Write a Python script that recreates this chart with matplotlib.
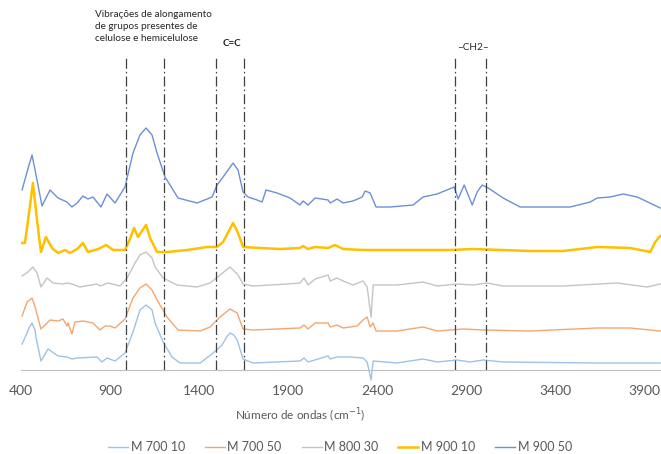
import numpy as np
import matplotlib
matplotlib.use("Agg")
import matplotlib.pyplot as plt

plt.rcParams["font.family"] = ["Lato", "DejaVu Sans"]

#################################
### 1. Dati ###
#################################

# numero d'onda (cm-1) e intensita' (u.a., con offset) per ogni campione
wn_700_10 = [406, 434, 445, 462, 479, 484, 512, 552, 608, 658, 686, 715, 827, 855, 883, 928, 984, 1029,
             1068, 1102, 1136, 1153, 1198, 1248, 1293, 1406, 1479, 1529, 1555, 1574, 1595, 1614, 1647,
             1703, 1967, 1990, 2012, 2125, 2136, 2175, 2248, 2321, 2344, 2366, 2378, 2512, 2658, 2737,
             2849, 2922, 2996, 3108, 3636, 3990]
y_700_10 = [26, 37, 42, 47, 40, 33, 9, 21, 14, 13, 11, 12, 13, 8, 12, 9, 17, 38,
            60, 65, 60, 47, 28, 13, 7, 7, 17, 25, 33, 37, 35, 30, 11,
            7, 9, 12, 8, 14, 11, 13, 13, 12, 8, -10, 9, 7, 11, 8,
            10, 8, 10, 8, 7, 7]

wn_700_50 = [406, 434, 462, 479, 512, 535, 563, 608, 636, 658, 664, 686, 703, 748, 804, 844, 872, 900,
             928, 984, 1029, 1068, 1102, 1136, 1164, 1220, 1282, 1406, 1462, 1518, 1574, 1614, 1647,
             1703, 1967, 1990, 2012, 2052, 2125, 2136, 2175, 2209, 2288, 2321, 2344, 2361, 2378, 2394,
             2512, 2658, 2737, 2883, 2996, 3260, 3636, 3821, 3990]
y_700_50 = [54, 68, 72, 63, 41, 45, 50, 49, 51, 44, 47, 36, 48, 49, 47, 40, 44, 44,
            42, 51, 72, 82, 86, 80, 70, 53, 40, 39, 43, 53, 61, 57, 41,
            40, 42, 45, 41, 47, 47, 43, 45, 42, 44, 50, 53, 43, 47, 39,
            39, 43, 39, 41, 40, 39, 42, 42, 39]

wn_800_30 = [406, 439, 467, 490, 512, 546, 580, 636, 658, 686, 731, 827, 844, 889, 956, 996, 1040,
             1068, 1102, 1136, 1153, 1198, 1276, 1389, 1462, 1518, 1574, 1619, 1647, 1703, 1894, 1967,
             1990, 2012, 2052, 2125, 2136, 2175, 2209, 2265, 2321, 2344, 2366, 2378, 2512, 2658, 2737,
             2849, 2939, 3018, 3108, 3445, 3748, 3917, 3990]
y_800_30 = [94, 98, 103, 97, 83, 92, 87, 86, 87, 86, 83, 86, 84, 87, 84, 92, 107,
            115, 118, 112, 103, 92, 85, 83, 87, 95, 103, 95, 86, 84, 86, 87,
            92, 85, 91, 95, 89, 92, 89, 85, 89, 83, 53, 85, 85, 88, 84,
            86, 85, 87, 84, 84, 87, 83, 86]

wn_900_10 = [406, 422, 445, 467, 490, 512, 540, 574, 608, 647, 675, 715, 748, 776, 833, 878, 917,
             984, 1012, 1035, 1057, 1102, 1125, 1164, 1220, 1333, 1445, 1501, 1535, 1591, 1619, 1647,
             1743, 1855, 1967, 1984, 2012, 2052, 2125, 2164, 2209, 2321, 2810, 2939, 3260, 3445, 3636,
             3821, 3934, 3962, 3990]
y_900_10 = [127, 127, 157, 187, 150, 118, 133, 122, 117, 120, 117, 121, 127, 118, 121, 125, 120,
            120, 131, 142, 133, 145, 132, 118, 118, 120, 123, 123, 128, 147, 137, 123,
            122, 121, 122, 124, 121, 123, 122, 125, 121, 120, 120, 121, 119, 119, 123,
            122, 118, 128, 134]

wn_900_50 = [406, 445, 462, 479, 518, 563, 608, 658, 686, 715, 748, 776, 804, 849, 883, 928, 984, 1029,
             1068, 1102, 1136, 1164, 1209, 1282, 1389, 1473, 1501, 1535, 1591, 1619, 1647, 1675, 1726,
             1754, 1776, 1838, 1911, 1967, 1984, 2012, 2052, 2125, 2136, 2175, 2209, 2265, 2316, 2333,
             2361, 2394, 2473, 2602, 2658, 2737, 2833, 2855, 2889, 2934, 2962, 2990, 3024, 3108, 3203,
             3484, 3597, 3636, 3709, 3782, 3861, 3990]
y_900_50 = [180, 205, 215, 200, 164, 180, 172, 168, 163, 167, 174, 171, 173, 163, 176, 167, 183, 217,
            235, 242, 235, 217, 193, 172, 167, 173, 185, 193, 207, 200, 178, 173, 170,
            168, 180, 177, 172, 165, 169, 165, 172, 170, 167, 171, 167, 169, 173, 179,
            177, 163, 163, 165, 173, 176, 183, 171, 185, 165, 178, 185, 182, 172, 163,
            163, 168, 172, 173, 176, 173, 162]

series_labels = ["M 700 10", "M 700 50", "M 800 30", "M 900 10", "M 900 50"]

# bande evidenziate (cm-1)
band_lines = [990, 1205, 1495, 1650, 2835, 3010]

##################
### 2. Grafico ###
##################

fig = plt.figure(figsize=(6.61, 4.54), dpi=100)
ax = fig.add_axes([21 / 661, 64 / 454, 641 / 661, 380 / 454])

ax.plot(wn_700_10, y_700_10, color="#9DC3E6", lw=1.0, label=series_labels[0])
ax.plot(wn_700_50, y_700_50, color="#F4A66F", lw=1.0, label=series_labels[1])
ax.plot(wn_800_30, y_800_30, color="#C4C4C4", lw=1.0, label=series_labels[2])
ax.plot(wn_900_10, y_900_10, color="#FFC000", lw=1.8, label=series_labels[3])
ax.plot(wn_900_50, y_900_50, color="#6D8FD6", lw=1.0, label=series_labels[4])

ax.vlines(band_lines, 0, 313, colors="#404040", lw=0.9, linestyles=(0, (8, 2.5, 1.2, 2.5)))

ax.set_xlim(400, 4000)
ax.set_ylim(-20, 360)
ax.set_xticks([400, 900, 1400, 1900, 2400, 2900, 3400, 3900])

for s in ["top", "right", "left"]:
    ax.spines[s].set_visible(False)
ax.spines["bottom"].set_position(("data", 0))
ax.spines["bottom"].set_color("#BFBFBF")
ax.set_yticks([])
ax.tick_params(axis="x", length=0, pad=11, labelsize=10, labelcolor="#595959")

# testi delle bande
ax.text(816, 360, "Vibrações de alongamento\nde grupos presentes de\ncelulose e hemicelulose",
        fontsize=7.2, va="top", ha="left", color="#262626", linespacing=1.4)
ax.text(1585, 326, "C=C", fontsize=7, fontweight="bold", ha="center", va="center", color="#262626")
ax.text(2939, 322, "–CH2–", fontsize=7.2, ha="center", va="center", color="#262626")

fig.text(300 / 661, 1 - 416 / 454, "Número de ondas (cm$^{-1}$)", fontsize=8.5,
         color="#595959", ha="center", va="center")

fig.legend(loc="center", bbox_to_anchor=(340 / 661, 1 - 447 / 454), ncol=5, frameon=False,
           fontsize=9, handlelength=1.6, handletextpad=0.2, columnspacing=1.6, labelcolor="#595959")

plt.savefig("out.png", dpi=100)
plt.close()
